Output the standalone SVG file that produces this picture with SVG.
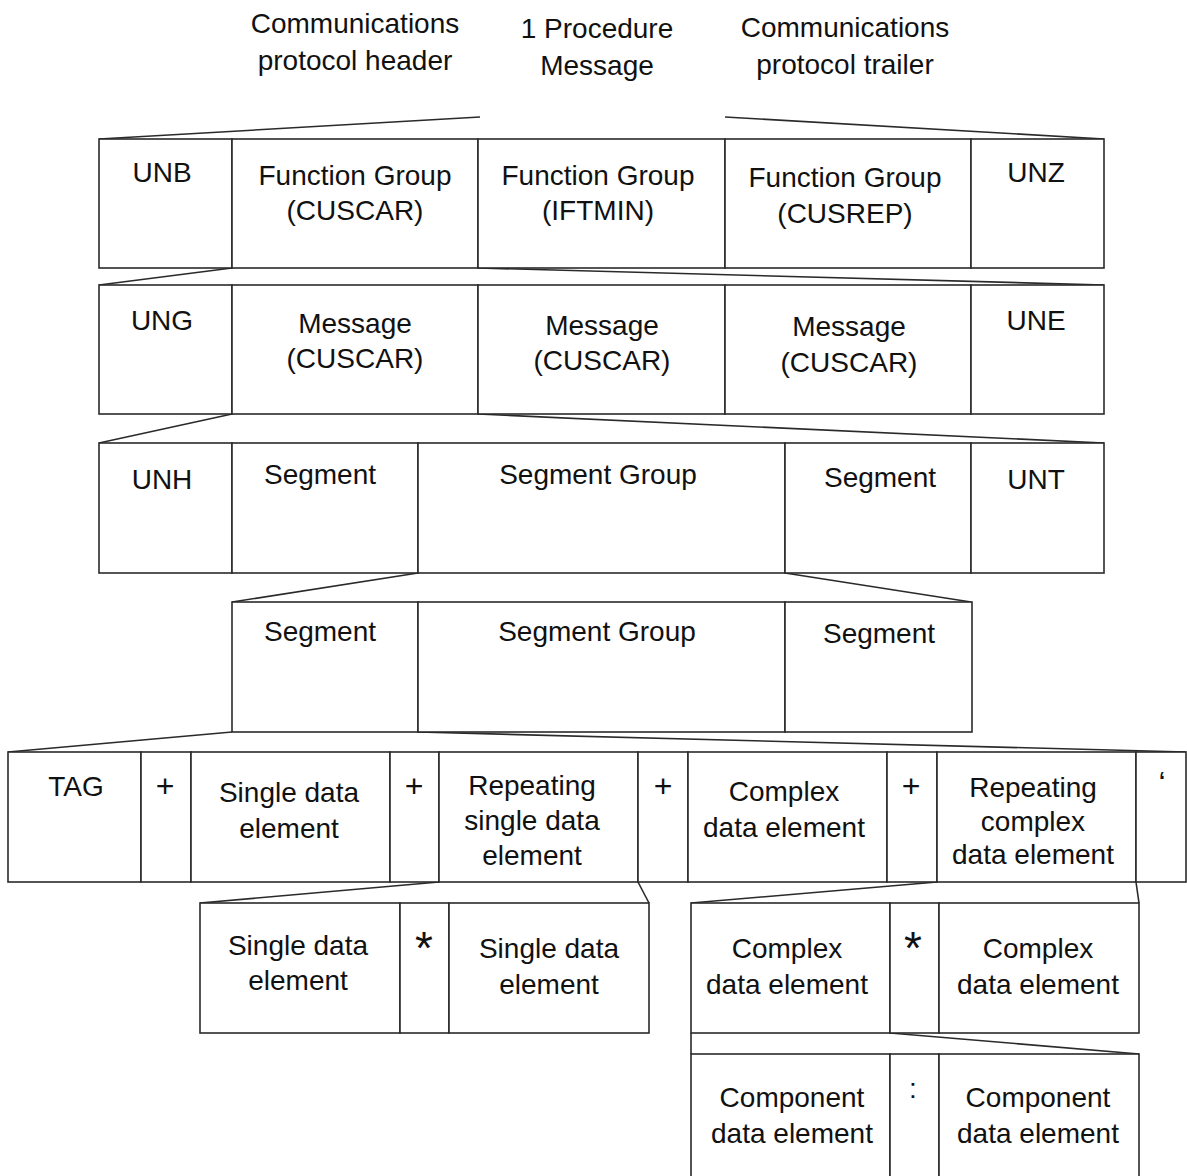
<svg xmlns="http://www.w3.org/2000/svg" width="1187" height="1176" viewBox="0 0 1187 1176">
  <style>
    .cell { fill: #ffffff; stroke: #2a2a2a; stroke-width: 1.6; }
    .lbl { font-family: "Liberation Sans", Arial, sans-serif; font-size: 28px; fill: #111111; text-anchor: middle; }
    .plus { font-size: 32px; }
    .star { font-size: 46px; }
    .link { fill: none; stroke: #2a2a2a; stroke-width: 1.6; }
  </style>
  <rect width="1187" height="1176" fill="#ffffff"/>

  <!-- captions above the interchange -->
  <g id="caption-header">
    <text class="lbl" x="355" y="33">Communications</text>
    <text class="lbl" x="355" y="70">protocol header</text>
  </g>
  <g id="caption-message">
    <text class="lbl" x="597" y="38">1 Procedure</text>
    <text class="lbl" x="597" y="75">Message</text>
  </g>
  <g id="caption-trailer">
    <text class="lbl" x="845" y="37">Communications</text>
    <text class="lbl" x="845" y="74">protocol trailer</text>
  </g>

  <!-- connectors: expansion lines between levels -->
  <g id="connectors">
    <line class="link" x1="99" y1="139" x2="480" y2="117"/>
    <line class="link" x1="725" y1="117" x2="1104" y2="139"/>
    <line class="link" x1="232" y1="268" x2="99" y2="285"/>
    <line class="link" x1="478" y1="268" x2="1104" y2="285"/>
    <line class="link" x1="232" y1="414" x2="99" y2="443"/>
    <line class="link" x1="478" y1="414" x2="1104" y2="443"/>
    <line class="link" x1="418" y1="573" x2="232" y2="602"/>
    <line class="link" x1="785" y1="573" x2="971" y2="602"/>
    <line class="link" x1="232" y1="732" x2="8" y2="752"/>
    <line class="link" x1="418" y1="732" x2="1186" y2="752"/>
    <line class="link" x1="439" y1="882" x2="200" y2="903"/>
    <line class="link" x1="638" y1="882" x2="649" y2="903"/>
    <line class="link" x1="937" y1="882" x2="691" y2="903"/>
    <line class="link" x1="1136" y1="882" x2="1139" y2="903"/>
    <line class="link" x1="691" y1="1033" x2="691" y2="1054"/>
    <line class="link" x1="890" y1="1033" x2="1139" y2="1054"/>
  </g>

  <!-- level 1: interchange -->
  <g id="unb"><rect class="cell" x="99" y="139" width="133" height="129"/><text class="lbl" x="162" y="182">UNB</text></g>
  <g id="fg-cuscar"><rect class="cell" x="232" y="139" width="246" height="129"/><text class="lbl" x="355" y="185">Function Group</text><text class="lbl" x="355" y="220">(CUSCAR)</text></g>
  <g id="fg-iftmin"><rect class="cell" x="478" y="139" width="247" height="129"/><text class="lbl" x="598" y="185">Function Group</text><text class="lbl" x="598" y="220">(IFTMIN)</text></g>
  <g id="fg-cusrep"><rect class="cell" x="725" y="139" width="246" height="129"/><text class="lbl" x="845" y="187">Function Group</text><text class="lbl" x="845" y="223">(CUSREP)</text></g>
  <g id="unz"><rect class="cell" x="971" y="139" width="133" height="129"/><text class="lbl" x="1036" y="182">UNZ</text></g>

  <!-- level 2: function group -->
  <g id="ung"><rect class="cell" x="99" y="285" width="133" height="129"/><text class="lbl" x="162" y="330">UNG</text></g>
  <g id="msg-1"><rect class="cell" x="232" y="285" width="246" height="129"/><text class="lbl" x="355" y="333">Message</text><text class="lbl" x="355" y="368">(CUSCAR)</text></g>
  <g id="msg-2"><rect class="cell" x="478" y="285" width="247" height="129"/><text class="lbl" x="602" y="335">Message</text><text class="lbl" x="602" y="370">(CUSCAR)</text></g>
  <g id="msg-3"><rect class="cell" x="725" y="285" width="246" height="129"/><text class="lbl" x="849" y="336">Message</text><text class="lbl" x="849" y="372">(CUSCAR)</text></g>
  <g id="une"><rect class="cell" x="971" y="285" width="133" height="129"/><text class="lbl" x="1036" y="330">UNE</text></g>

  <!-- level 3: message -->
  <g id="unh"><rect class="cell" x="99" y="443" width="133" height="130"/><text class="lbl" x="162" y="489">UNH</text></g>
  <g id="seg-a"><rect class="cell" x="232" y="443" width="186" height="130"/><text class="lbl" x="320" y="484">Segment</text></g>
  <g id="seggrp-a"><rect class="cell" x="418" y="443" width="367" height="130"/><text class="lbl" x="598" y="484">Segment Group</text></g>
  <g id="seg-b"><rect class="cell" x="785" y="443" width="186" height="130"/><text class="lbl" x="880" y="487">Segment</text></g>
  <g id="unt"><rect class="cell" x="971" y="443" width="133" height="130"/><text class="lbl" x="1036" y="489">UNT</text></g>

  <!-- level 4: segment group -->
  <g id="seg-c"><rect class="cell" x="232" y="602" width="186" height="130"/><text class="lbl" x="320" y="641">Segment</text></g>
  <g id="seggrp-b"><rect class="cell" x="418" y="602" width="367" height="130"/><text class="lbl" x="597" y="641">Segment Group</text></g>
  <g id="seg-d"><rect class="cell" x="785" y="602" width="187" height="130"/><text class="lbl" x="879" y="643">Segment</text></g>

  <!-- level 5: segment -->
  <g id="tag"><rect class="cell" x="8" y="752" width="133" height="130"/><text class="lbl" x="76" y="796">TAG</text></g>
  <g id="sep-1"><rect class="cell" x="141" y="752" width="50" height="130"/><text class="lbl plus" x="165" y="797">+</text></g>
  <g id="single-de"><rect class="cell" x="191" y="752" width="199" height="130"/><text class="lbl" x="289" y="802">Single data</text><text class="lbl" x="289" y="838">element</text></g>
  <g id="sep-2"><rect class="cell" x="390" y="752" width="49" height="130"/><text class="lbl plus" x="414" y="797">+</text></g>
  <g id="rep-single-de"><rect class="cell" x="439" y="752" width="199" height="130"/><text class="lbl" x="532" y="795">Repeating</text><text class="lbl" x="532" y="830">single data</text><text class="lbl" x="532" y="865">element</text></g>
  <g id="sep-3"><rect class="cell" x="638" y="752" width="50" height="130"/><text class="lbl plus" x="663" y="797">+</text></g>
  <g id="complex-de"><rect class="cell" x="688" y="752" width="199" height="130"/><text class="lbl" x="784" y="801">Complex</text><text class="lbl" x="784" y="837">data element</text></g>
  <g id="sep-4"><rect class="cell" x="887" y="752" width="50" height="130"/><text class="lbl plus" x="911" y="797">+</text></g>
  <g id="rep-complex-de"><rect class="cell" x="937" y="752" width="199" height="130"/><text class="lbl" x="1033" y="797">Repeating</text><text class="lbl" x="1033" y="831">complex</text><text class="lbl" x="1033" y="864">data element</text></g>
  <g id="terminator"><rect class="cell" x="1136" y="752" width="50" height="130"/><text class="lbl plus" x="1162" y="794">‘</text></g>

  <!-- level 6: repeating single data element -->
  <g id="rep-single-1"><rect class="cell" x="200" y="903" width="200" height="130"/><text class="lbl" x="298" y="955">Single data</text><text class="lbl" x="298" y="990">element</text></g>
  <g id="rep-sep-1"><rect class="cell" x="400" y="903" width="49" height="130"/><text class="lbl star" x="424" y="964">*</text></g>
  <g id="rep-single-2"><rect class="cell" x="449" y="903" width="200" height="130"/><text class="lbl" x="549" y="958">Single data</text><text class="lbl" x="549" y="994">element</text></g>

  <!-- level 6: repeating complex data element -->
  <g id="rep-complex-1"><rect class="cell" x="691" y="903" width="199" height="130"/><text class="lbl" x="787" y="958">Complex</text><text class="lbl" x="787" y="994">data element</text></g>
  <g id="rep-sep-2"><rect class="cell" x="890" y="903" width="49" height="130"/><text class="lbl star" x="913" y="964">*</text></g>
  <g id="rep-complex-2"><rect class="cell" x="939" y="903" width="200" height="130"/><text class="lbl" x="1038" y="958">Complex</text><text class="lbl" x="1038" y="994">data element</text></g>

  <!-- level 7: complex data element (runs past the lower edge) -->
  <g id="component-1"><rect class="cell" x="691" y="1054" width="199" height="140"/><text class="lbl" x="792" y="1107">Component</text><text class="lbl" x="792" y="1143">data element</text></g>
  <g id="comp-sep"><rect class="cell" x="890" y="1054" width="49" height="140"/><text class="lbl" x="913" y="1098">:</text></g>
  <g id="component-2"><rect class="cell" x="939" y="1054" width="200" height="140"/><text class="lbl" x="1038" y="1107">Component</text><text class="lbl" x="1038" y="1143">data element</text></g>
</svg>
